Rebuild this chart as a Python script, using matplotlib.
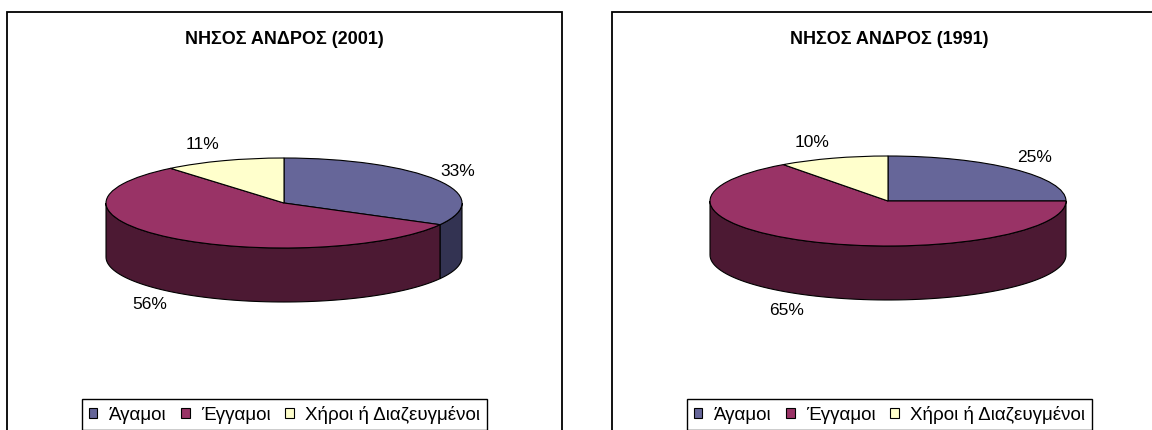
import numpy as np
import matplotlib
matplotlib.use("Agg")
import matplotlib.pyplot as plt
from matplotlib.patches import Polygon, Rectangle, Patch

plt.rcParams['font.family'] = ['Liberation Sans', 'DejaVu Sans']

# data
categories = ['Άγαμοι', 'Έγγαμοι', 'Χήροι ή Διαζευγμένοι']
share_2001 = [33, 56, 11]
share_1991 = [25, 65, 10]
titles = ['ΝΗΣΟΣ ΑΝΔΡΟΣ (2001)', 'ΝΗΣΟΣ ΑΝΔΡΟΣ (1991)']

top_colors = ['#666699', '#993366', '#FFFFCC']
side_colors = ['#333352', '#4C1933', '#80806A']

W, H = 1152, 430
fig = plt.figure(figsize=(W / 100, H / 100), dpi=100)


def fx(x):
    return x / W


def fy(y):
    return 1 - y / H


def pie3d(values, cx, cy, rx=178, ry=45, depth=1.2):
    """flat 3d pie, cx/cy/rx/ry in pixels, depth in units of ry"""
    lo_x, hi_x = -1.6, 1.6
    lo_y, hi_y = -2.6, 1.6
    left = cx + lo_x * rx
    top = cy - hi_y * ry
    w = (hi_x - lo_x) * rx
    h = (hi_y - lo_y) * ry
    ax = fig.add_axes([fx(left), fy(top + h), w / W, h / H])

    ax.pie(values, colors=top_colors, startangle=90, counterclock=False,
           radius=1, wedgeprops=dict(edgecolor='black', linewidth=0.8, zorder=3))
    ax.set_aspect('auto')
    ax.set_xlim(lo_x, hi_x)
    ax.set_ylim(lo_y, hi_y)
    ax.axis('off')

    fracs = np.array(values, dtype=float) / sum(values)
    start = 90.0
    for i, f in enumerate(fracs):
        a2 = start
        a1 = start - 360 * f
        start = a1
        # visible side wall: front half of the ellipse
        lo, hi = max(a1, -180), min(a2, 0)
        if hi > lo:
            t = np.radians(np.linspace(lo, hi, 80))
            upper = np.column_stack([np.cos(t), np.sin(t)])
            lower = np.column_stack([np.cos(t), np.sin(t) - depth])[::-1]
            ax.add_patch(Polygon(np.vstack([upper, lower]), closed=True,
                                 facecolor=side_colors[i], edgecolor='black',
                                 linewidth=0.8, zorder=2))
        mid = np.radians((a1 + a2) / 2)
        bx, by = np.cos(mid), np.sin(mid)
        if by < 0:
            by -= depth
        ax.annotate(f'{values[i]}%', (bx, by),
                    xytext=(21 * np.sign(np.cos(mid)), 17 * np.sin(mid)),
                    textcoords='offset pixels', ha='center', va='center',
                    fontsize=12.5, color='black', zorder=5)
    return ax


def panel(x0, values, title, cx, cy):
    fig.add_artist(Rectangle((fx(x0), fy(445)), 555 / W, 433 / H,
                             transform=fig.transFigure, fill=False,
                             edgecolor='black', linewidth=1.3))
    mid = x0 + 555 / 2
    fig.text(fx(mid), fy(40), title, ha='center', va='center',
             fontsize=13, fontweight='bold')
    pie3d(values, cx, cy)
    handles = [Patch(facecolor=c, edgecolor='black', linewidth=0.8) for c in top_colors]
    leg = fig.legend(handles, categories, loc='upper center',
                     bbox_to_anchor=(fx(mid), fy(399)), ncol=3,
                     frameon=True, fancybox=False, edgecolor='black',
                     framealpha=1, fontsize=13.5, handlelength=0.45,
                     handleheight=0.45, handletextpad=0.6, columnspacing=0.8,
                     borderpad=0.35, borderaxespad=0)
    leg.get_frame().set_linewidth(1.0)


panel(7, share_2001, titles[0], 284, 203)
panel(612, share_1991, titles[1], 888, 201)

fig.savefig('out.png', dpi=100)
